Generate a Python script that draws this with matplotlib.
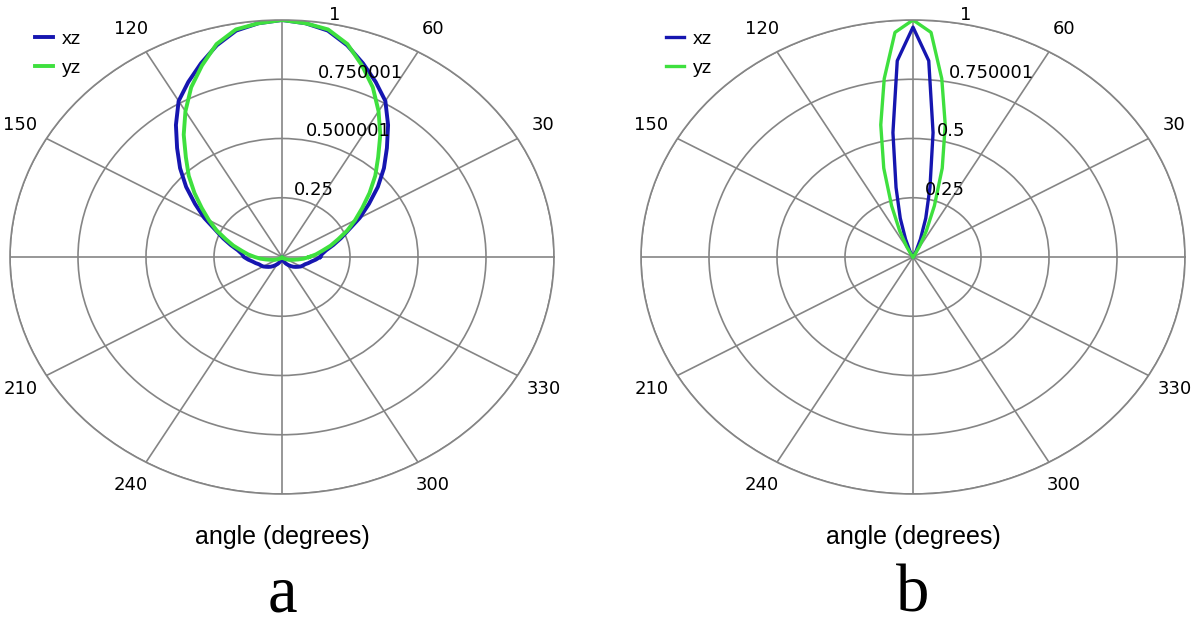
import numpy as np
import matplotlib.pyplot as plt

# angles in degrees (sampled every 5 deg), radius normalised to 1
angle_a = list(range(0, 361, 5))
xz_a = [0.14, 0.148, 0.165, 0.195, 0.23, 0.27, 0.33, 0.39, 0.46, 0.53, 0.60, 0.68, 0.76, 0.815, 0.87, 0.925, 0.97, 0.99, 1.0,
        0.99, 0.97, 0.925, 0.87, 0.815, 0.76, 0.68, 0.60, 0.53, 0.46, 0.39, 0.33, 0.27, 0.23, 0.195, 0.165, 0.148, 0.14,
        0.125, 0.11, 0.10, 0.09, 0.085, 0.08, 0.072, 0.065, 0.058, 0.05, 0.042, 0.035, 0.028, 0.02, 0.014, 0.008, 0.003, 0.0,
        0.003, 0.008, 0.014, 0.02, 0.028, 0.035, 0.042, 0.05, 0.058, 0.065, 0.072, 0.08, 0.085, 0.09, 0.10, 0.11, 0.125, 0.14]
yz_a = [0.10, 0.125, 0.15, 0.185, 0.22, 0.265, 0.31, 0.36, 0.42, 0.485, 0.55, 0.63, 0.71, 0.79, 0.86, 0.93, 0.975, 0.99, 1.0,
        0.99, 0.975, 0.93, 0.86, 0.79, 0.71, 0.63, 0.55, 0.485, 0.42, 0.36, 0.31, 0.265, 0.22, 0.185, 0.15, 0.125, 0.10,
        0.08, 0.06, 0.045, 0.035, 0.027, 0.02, 0.015, 0.01, 0.007, 0.005, 0.003, 0, 0, 0, 0, 0, 0, 0,
        0, 0, 0, 0, 0, 0, 0.003, 0.005, 0.007, 0.01, 0.015, 0.02, 0.027, 0.035, 0.045, 0.06, 0.08, 0.10]

angle_b = [50, 54, 58, 62, 66, 70, 74, 78, 82, 86, 90, 94, 98, 102, 106, 110, 114, 118, 122, 126, 130]
xz_b = [0, 0, 0, 0.01, 0.03, 0.08, 0.17, 0.30, 0.53, 0.83, 0.97, 0.83, 0.53, 0.30, 0.17, 0.08, 0.03, 0.01, 0, 0, 0]
yz_b = [0, 0, 0.015, 0.05, 0.12, 0.23, 0.39, 0.57, 0.76, 0.95, 1.0, 0.95, 0.76, 0.57, 0.39, 0.23, 0.12, 0.05, 0.015, 0, 0]

angle_labels = [30, 60, 120, 150, 210, 240, 300, 330]
rings = [0.25, 0.5, 0.75, 1.0]
ring_labels_a = ["0.25", "0.500001", "0.750001", "1"]
ring_labels_b = ["0.25", "0.5", "0.750001", "1"]

BLUE = "#1616b0"
GREEN = "#3ee03e"
GRID = "#858585"
W, H = 1200, 626

fig = plt.figure(figsize=(12, 6.26), dpi=100)


def panel(left_px, ang, xz, yz, ring_labels, lw, letter):
    ax = fig.add_axes([left_px / W, 1 - 494 / H, 544 / W, 474 / H], projection="polar")
    ax.set_aspect("auto")  # stretch the circle into an ellipse like the original
    th = np.radians(ang)
    ax.plot(th, xz, color=BLUE, lw=lw, label="xz")
    ax.plot(th, yz, color=GREEN, lw=lw, label="yz")
    ax.set_ylim(0, 1)
    ax.set_yticks(rings)
    ax.set_yticklabels([])
    ax.set_xticks(np.radians(np.arange(0, 360, 30)))
    ax.set_xticklabels([])
    ax.tick_params(length=0)
    ax.grid(True, color=GRID, lw=1.2)
    ax.spines["polar"].set_color(GRID)
    ax.spines["polar"].set_linewidth(1.2)
    for a in angle_labels:
        ax.text(np.radians(a), 1.11, str(a), ha="center", va="center", fontsize=13,
                family="DejaVu Sans", clip_on=False)
    for r, lab in zip(rings, ring_labels):
        ax.text(np.radians(80), r, lab, ha="left", va="bottom", fontsize=13,
                family="DejaVu Sans", clip_on=False)
    ax.legend(loc="upper left", bbox_to_anchor=((left_px + 25) / W, 1 - 30 / H),
              bbox_transform=fig.transFigure, frameon=False,
              handlelength=0.95, handletextpad=0.45, labelspacing=0.6,
              borderpad=0, borderaxespad=0, prop={"family": "Liberation Sans", "size": 14})
    cx = (left_px + 272) / W
    fig.text(cx, 1 - 537 / H, "angle (degrees)", ha="center", va="center",
             fontsize=18, family="Liberation Sans")
    fig.text(cx, 1 - 612 / H, letter, ha="center", va="baseline",
             fontsize=48, family="Liberation Serif")


panel(10, angle_a, xz_a, yz_a, ring_labels_a, 2.8, "a")
panel(641, angle_b, xz_b, yz_b, ring_labels_b, 2.4, "b")

fig.savefig("out.png", dpi=100, facecolor="white")
